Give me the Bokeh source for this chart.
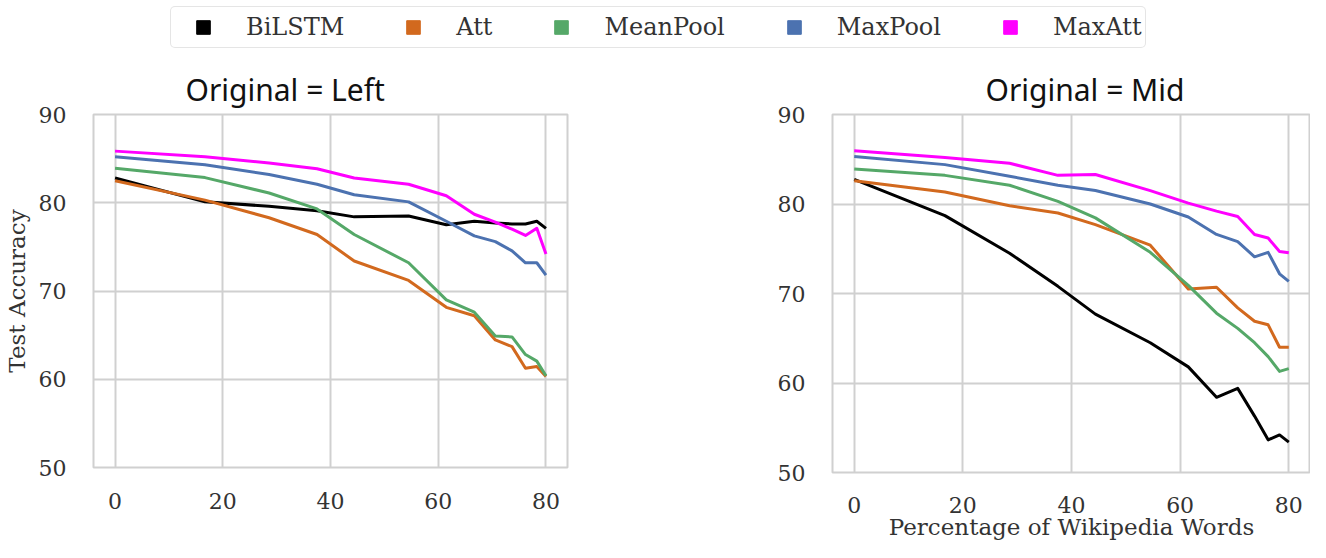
from bokeh.plotting import figure
from bokeh.layouts import column, row
from bokeh.models import Range1d, Legend, LegendItem
from bokeh.embed import file_html
from bokeh.resources import INLINE

# ---------------- data ----------------
x_pct = [0, 16.7, 28.6, 37.5, 44.4, 54.5, 61.5, 66.7, 70.6, 73.7, 76.2, 78.3, 80.0]

models = ["BiLSTM", "Att", "MeanPool", "MaxPool", "MaxAtt"]
colors = ["#000000", "#D2691E", "#55A868", "#4C72B0", "#FF00FF"]

# Original = Left
left_bilstm = [82.8, 80.1, 79.6, 79.1, 78.4, 78.5, 77.5, 77.9, 77.7, 77.6, 77.6, 77.9, 77.1]
left_att = [82.5, 80.3, 78.3, 76.4, 73.4, 71.2, 68.15, 67.2, 64.45, 63.7, 61.25, 61.45, 60.3]
left_meanpool = [83.9, 82.85, 81.1, 79.3, 76.4, 73.2, 69.0, 67.6, 64.9, 64.8, 62.8, 62.05, 60.4]
left_maxpool = [85.2, 84.3, 83.2, 82.1, 80.9, 80.1, 77.9, 76.25, 75.6, 74.55, 73.2, 73.2, 71.8]
left_maxatt = [85.85, 85.2, 84.5, 83.85, 82.8, 82.1, 80.8, 78.7, 77.8, 77.0, 76.3, 77.1, 74.2]

# Original = Mid
mid_bilstm = [82.75, 78.7, 74.5, 70.8, 67.7, 64.5, 61.8, 58.4, 59.4, 56.3, 53.65, 54.2, 53.4]
mid_att = [82.6, 81.35, 79.8, 79.0, 77.7, 75.4, 70.5, 70.7, 68.4, 66.9, 66.5, 64.0, 64.0]
mid_meanpool = [83.9, 83.2, 82.1, 80.3, 78.45, 74.6, 70.9, 67.8, 66.1, 64.5, 62.95, 61.3, 61.6]
mid_maxpool = [85.3, 84.4, 83.1, 82.1, 81.5, 80.0, 78.55, 76.6, 75.8, 74.1, 74.6, 72.2, 71.35]
mid_maxatt = [85.95, 85.2, 84.55, 83.2, 83.3, 81.5, 80.1, 79.2, 78.6, 76.6, 76.2, 74.7, 74.55]

x_ticks = [0, 20, 40, 60, 80]
y_ticks = [50, 60, 70, 80, 90]

left_title = "Original = Left"
mid_title = "Original = Mid"
y_label = "Test Accuracy"
x_label = "Percentage of Wikipedia Words"

SERIF = "DejaVu Serif"
TICK_COLOR = "#333333"
GRID = "#d0d0d0"


def make_panel(title, series, width, height, mb_left, mb_right, mb_top, mb_bottom,
               title_offset, x_standoff, ylabel=None, xlabel=None):
    p = figure(width=width, height=height, x_range=Range1d(-4, 84), y_range=Range1d(50, 90),
               output_backend="svg", toolbar_location=None,
               min_border_left=mb_left, min_border_right=mb_right,
               min_border_top=mb_top, min_border_bottom=mb_bottom)
    p.title.text = title
    p.title.align = "left"
    p.title.offset = title_offset
    p.title.text_font = "Noto Sans"
    p.title.text_font_size = "30px"
    p.title.text_font_style = "normal"
    p.title.text_color = "#111111"
    p.title.standoff = 10

    p.xaxis.ticker = x_ticks
    p.yaxis.ticker = y_ticks
    for ax in (p.xaxis, p.yaxis):
        ax.major_label_text_font = SERIF
        ax.major_label_text_font_size = "22px"
        ax.major_label_text_color = TICK_COLOR
        ax.major_tick_line_color = None
        ax.minor_tick_line_color = None
        ax.axis_line_color = None
        ax.axis_label_text_font = SERIF
        ax.axis_label_text_font_size = "23px"
        ax.axis_label_text_font_style = "normal"
        ax.axis_label_text_color = TICK_COLOR
    p.xaxis.major_label_standoff = x_standoff
    p.yaxis.major_label_standoff = 21
    if ylabel:
        p.yaxis.axis_label = ylabel
        p.yaxis.axis_label_standoff = 6
    if xlabel:
        p.xaxis.axis_label = xlabel
        p.xaxis.axis_label_standoff = -2

    p.grid.grid_line_color = GRID
    p.grid.grid_line_width = 2
    p.outline_line_color = GRID
    p.outline_line_width = 2
    p.background_fill_color = "white"
    p.border_fill_color = "white"

    for ys, c in zip(series, colors):
        p.line(x_pct, ys, line_color=c, line_width=3, line_join="round")
    return p


left = make_panel(left_title,
                  [left_bilstm, left_att, left_meanpool, left_maxpool, left_maxatt],
                  600, 488, 92, 33, 60, 75, 92, 19, ylabel=y_label)
right = make_panel(mid_title,
                   [mid_bilstm, mid_att, mid_meanpool, mid_maxpool, mid_maxatt],
                   710, 488, 232, 0, 60, 68, 153, 18, xlabel=x_label)

# ---------------- legend strip ----------------
lg = figure(width=1310, height=54, x_range=Range1d(0, 1), y_range=Range1d(0, 1),
            x_axis_type=None, y_axis_type=None, output_backend="svg",
            toolbar_location=None, min_border=0)
lg.outline_line_color = None
items = []
for name, c, ys in zip(models, colors,
                       [left_bilstm, left_att, left_meanpool, left_maxpool, left_maxatt]):
    r = lg.scatter(x=x_pct, y=ys, marker="square", fill_color=c, line_color=c, size=14)
    r.visible = False
    items.append(LegendItem(label=name, renderers=[r]))

legend = Legend(items=items, orientation="horizontal", location=(170, 6),
                padding=3, spacing=40, margin=0,
                glyph_width=58, glyph_height=34, label_standoff=14,
                label_text_font=SERIF, label_text_font_size="24px",
                label_text_color=TICK_COLOR,
                border_line_color="#cccccc", border_line_width=1.5,
                background_fill_color="white", background_fill_alpha=1.0)
try:
    legend.border_radius = 5
except Exception:
    pass
lg.add_layout(legend, "center")

layout = column(lg, row(column(left), column(right)))

open("out.html", "w").write(file_html(layout, INLINE))
